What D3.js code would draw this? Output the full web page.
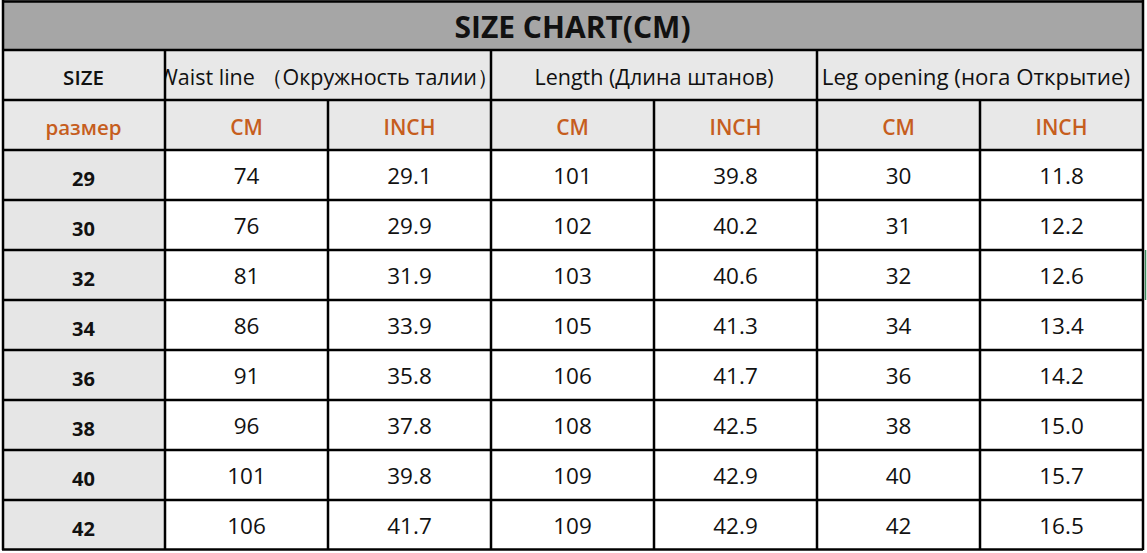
<!DOCTYPE html>
<html>
<head>
<meta charset="utf-8">
<script src="https://cdn.jsdelivr.net/npm/d3@7"></script>
<style>
  body { margin: 0; background: #fff; }
  svg { display: block; }
  text { font-family: "Open Sans", "Noto Sans", sans-serif; }
</style>
</head>
<body>
<div id="chart"></div>
<script>
var title = "SIZE CHART(CM)";
var sizes = ["29", "30", "32", "34", "36", "38", "40", "42"];
var groupLabels = ["Waist line  \uFF08Окружность талии\uFF09", "Length (Длина штанов)", "Leg opening (нога Открытие)"];
var unitLabels = ["CM", "INCH"];
var waistCm = ["74", "76", "81", "86", "91", "96", "101", "106"];
var waistIn = ["29.1", "29.9", "31.9", "33.9", "35.8", "37.8", "39.8", "41.7"];
var lengthCm = ["101", "102", "103", "105", "106", "108", "109", "109"];
var lengthIn = ["39.8", "40.2", "40.6", "41.3", "41.7", "42.5", "42.9", "42.9"];
var legCm = ["30", "31", "32", "34", "36", "38", "40", "42"];
var legIn = ["11.8", "12.2", "12.6", "13.4", "14.2", "15.0", "15.7", "16.5"];

var width = 1147, height = 553;
var colKeys = ["size", "wc", "wi", "lc", "li", "gc", "gi"];
var series = [waistCm, waistIn, lengthCm, lengthIn, legCm, legIn];
var rowKeys = ["title", "head", "unit"].concat(sizes);

var x = d3.scaleBand().domain(colKeys).range([2, 1143]);
var y = d3.scaleBand().domain(rowKeys).range([0, 550]);

var svg = d3.select("#chart").append("svg")
    .attr("width", width)
    .attr("height", height);

var orange = "#c65e1e";

// backgrounds
svg.append("rect")
    .attr("x", x("size")).attr("y", y("title"))
    .attr("width", 1143 - x("size")).attr("height", y.bandwidth())
    .attr("fill", "#a6a6a6");
svg.append("rect")
    .attr("x", x("size")).attr("y", y("head"))
    .attr("width", 1143 - x("size")).attr("height", y.bandwidth() * 2)
    .attr("fill", "#e8e8e8");
svg.append("rect")
    .attr("x", x("size")).attr("y", y(sizes[0]))
    .attr("width", x.bandwidth()).attr("height", y.bandwidth() * sizes.length)
    .attr("fill", "#e6e6e6");

// clip for waist header
svg.append("defs").append("clipPath").attr("id", "waistClip")
  .append("rect")
    .attr("x", x("wc") + 1).attr("y", y("head"))
    .attr("width", x.bandwidth() * 2).attr("height", y.bandwidth());

// title
svg.append("text")
    .attr("x", (x("size") + 1143) / 2)
    .attr("y", y("title") + y.bandwidth() / 2 + 1)
    .attr("text-anchor", "middle")
    .attr("dominant-baseline", "central")
    .attr("font-size", 30)
    .attr("font-weight", "bold")
    .attr("fill", "#111")
    .text(title);

// header row
svg.append("text")
    .attr("x", x("size") + x.bandwidth() / 2)
    .attr("y", y("head") + y.bandwidth() / 2 + 2)
    .attr("text-anchor", "middle")
    .attr("dominant-baseline", "central")
    .attr("font-size", 20.5)
    .attr("font-weight", 600)
    .attr("fill", "#111")
    .text("SIZE");

// waist header: two parts, left part overflows the cell and is clipped
var waistParts = groupLabels[0].split("  ");
var waistG = svg.append("g").attr("clip-path", "url(#waistClip)");
waistG.append("text")
    .attr("x", x("wc") - 7)
    .attr("y", y("head") + y.bandwidth() / 2 + 1)
    .attr("dominant-baseline", "central")
    .attr("font-size", 21.5)
    .attr("font-weight", 500)
    .attr("fill", "#111")
    .text(waistParts[0]);
waistG.append("text")
    .attr("x", x("wi") + x.bandwidth() + 8)
    .attr("y", y("head") + y.bandwidth() / 2 + 1)
    .attr("text-anchor", "end")
    .attr("dominant-baseline", "central")
    .attr("font-size", 21.5)
    .attr("font-weight", 500)
    .attr("fill", "#111")
    .text(waistParts[1]);

var groupStarts = ["wc", "lc", "gc"];
svg.selectAll(".group").data(groupLabels.slice(1))
  .enter().append("text")
    .attr("class", "group")
    .attr("x", function(d, i) { return x(groupStarts[i + 1]) + x.bandwidth() - (i === 1 ? 4 : 0); })
    .attr("y", y("head") + y.bandwidth() / 2 + 1)
    .attr("text-anchor", "middle")
    .attr("dominant-baseline", "central")
    .attr("font-size", function(d, i) { return i === 1 ? 22.3 : 21.5; })
    .attr("font-weight", 500)
    .attr("fill", "#111")
    .text(function(d) { return d; });

// unit row
svg.append("text")
    .attr("x", x("size") + x.bandwidth() / 2)
    .attr("y", y("unit") + y.bandwidth() / 2 + 2)
    .attr("text-anchor", "middle")
    .attr("dominant-baseline", "central")
    .attr("font-size", 20.5)
    .attr("font-weight", 600)
    .attr("fill", orange)
    .text("размер");

svg.selectAll(".unit").data(colKeys.slice(1))
  .enter().append("text")
    .attr("class", "unit")
    .attr("x", function(d) { return x(d) + x.bandwidth() / 2; })
    .attr("y", y("unit") + y.bandwidth() / 2 + 2)
    .attr("text-anchor", "middle")
    .attr("dominant-baseline", "central")
    .attr("font-size", 21)
    .attr("font-weight", 600)
    .attr("fill", orange)
    .text(function(d, i) { return unitLabels[i % 2]; });

// size column
svg.selectAll(".size").data(sizes)
  .enter().append("text")
    .attr("class", "size")
    .attr("x", x("size") + x.bandwidth() / 2)
    .attr("y", function(d) { return y(d) + y.bandwidth() / 2 + 3; })
    .attr("text-anchor", "middle")
    .attr("dominant-baseline", "central")
    .attr("font-size", 20)
    .attr("font-weight", "bold")
    .attr("fill", "#111")
    .text(function(d) { return d; });

// values
series.forEach(function(vals, c) {
  svg.selectAll(".v" + c).data(vals)
    .enter().append("text")
      .attr("class", "v" + c)
      .attr("x", x(colKeys[c + 1]) + x.bandwidth() / 2)
      .attr("y", function(d, i) { return y(sizes[i]) + y.bandwidth() / 2; })
      .attr("text-anchor", "middle")
      .attr("dominant-baseline", "central")
      .attr("font-size", 22.5)
      .attr("fill", "#111")
      .text(function(d) { return d; });
});

// grid lines
var lines = svg.append("g")
    .attr("stroke", "#000")
    .attr("stroke-width", 2.5)
    .attr("fill", "none");

// horizontal lines
rowKeys.forEach(function(r) {
  var off = r === "title" ? 1.5 : 0;
  lines.append("line")
      .attr("x1", x("size")).attr("x2", 1143)
      .attr("y1", y(r) + off).attr("y2", y(r) + off);
});
lines.append("line")
    .attr("x1", x("size")).attr("x2", 1143)
    .attr("y1", 549.5).attr("y2", 549.5);

// vertical lines
var fullCols = ["size", "wc", "lc", "gc"];
colKeys.forEach(function(c) {
  var top = fullCols.indexOf(c) >= 0 ? y("head") : y("unit");
  if (c === "size") top = y("title");
  var off = c === "size" ? 1 : 0;
  lines.append("line")
      .attr("x1", x(c) + off).attr("x2", x(c) + off)
      .attr("y1", top).attr("y2", 550);
});
lines.append("line")
    .attr("x1", 1143).attr("x2", 1143)
    .attr("y1", y("title")).attr("y2", 550);

// faint selection mark at right edge
svg.append("line")
    .attr("x1", 1145.5).attr("x2", 1145.5)
    .attr("y1", 250).attr("y2", 300)
    .attr("stroke", "#3f8a5c")
    .attr("stroke-width", 1.5);
</script>
</body>
</html>
